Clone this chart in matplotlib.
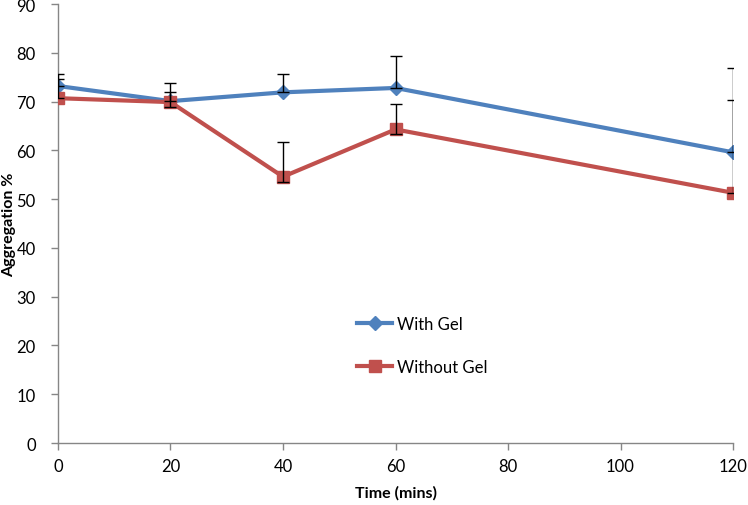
import numpy as np
import matplotlib.pyplot as plt

plt.rcParams['font.family'] = ['Lato', 'DejaVu Sans']

time = [0, 20, 40, 60, 120]
with_gel = [73.2, 70.1, 71.9, 72.8, 59.6]
without_gel = [70.7, 69.9, 54.6, 64.3, 51.3]
with_gel_err = [2.5, 3.8, 3.7, 6.6, 17.2]
without_gel_err = [3.9, 2.0, 7.1, 5.2, 19.0]
without_gel_err_low = [0.0, 1.0, 1.0, 1.0, 0.0]

blue = "#4F81BD"
red = "#C0504D"
grey = "#868686"

fig = plt.figure(figsize=(7.48, 5.06), dpi=100)
ax = fig.add_axes([0.0775, 0.1225, 0.9025, 0.8675])

ax.errorbar(time, with_gel, yerr=[np.zeros(5), with_gel_err], fmt="none",
            ecolor="black", elinewidth=1, capsize=4, capthick=1, zorder=4)
ax.errorbar(time, without_gel, yerr=[without_gel_err_low, without_gel_err], fmt="none",
            ecolor="black", elinewidth=1, capsize=4, capthick=1, zorder=4)

ax.plot(time, with_gel, color=blue, lw=3, marker="D", markersize=7.5, label="With Gel", zorder=3)
ax.plot(time, without_gel, color=red, lw=3, marker="s", markersize=8.5, label="Without Gel", zorder=3)

ax.set_xlim(0, 120)
ax.set_ylim(0, 90)
ax.set_xticks(np.arange(0, 121, 20))
ax.set_yticks(np.arange(0, 91, 10))

for s in ["top", "right"]:
    ax.spines[s].set_visible(False)
for s in ["left", "bottom"]:
    ax.spines[s].set_color(grey)
    ax.spines[s].set_linewidth(1)
ax.tick_params(axis="both", direction="out", length=5, color=grey, labelsize=12, width=1)
ax.tick_params(axis="y", pad=11)
ax.tick_params(axis="x", pad=6)

ax.set_xlabel("Time (mins)", fontweight="bold", fontsize=11.5, labelpad=8)
ax.set_ylabel("Aggregation %", fontweight="bold", fontsize=11.5)
ax.yaxis.set_label_coords(-0.062, 0.5)

ax.legend(loc="center", bbox_to_anchor=(0.54, 0.222), frameon=False, fontsize=12,
          labelspacing=1.6, handlelength=2.1, handletextpad=0.3)

fig.savefig("out.png", dpi=100)
